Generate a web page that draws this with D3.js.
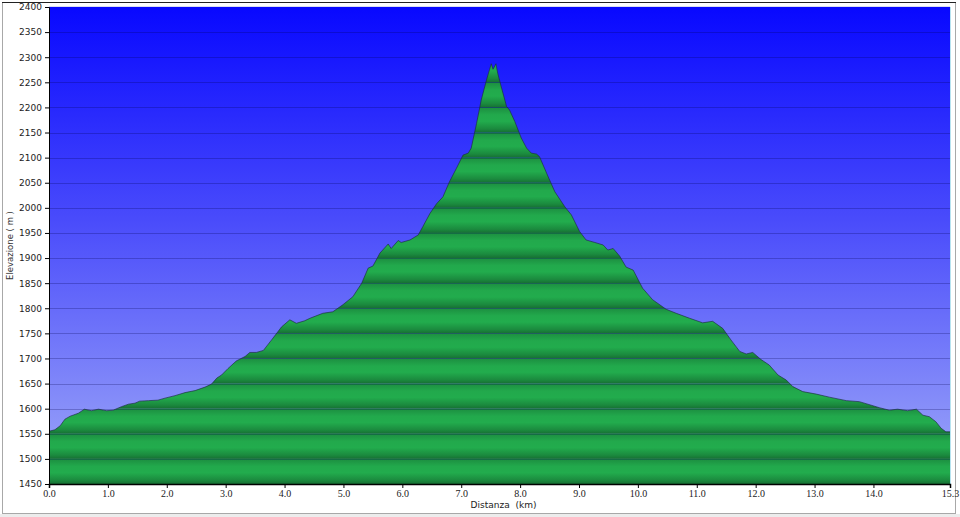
<!DOCTYPE html>
<html><head><meta charset="utf-8">
<script src="https://cdn.jsdelivr.net/npm/d3@7"></script>
<style>
html,body{margin:0;padding:0;background:#fff;}
svg{display:block;}
text{white-space:pre;}
</style></head>
<body>
<svg id="chart" width="960" height="517"></svg>
<script>
// Distance (km) and elevation (m)
const distKm = [0.00,0.10,0.19,0.27,0.36,0.50,0.60,0.72,0.84,0.98,1.09,1.23,1.35,1.46,1.54,1.69,1.85,1.97,2.14,2.31,2.48,2.65,2.76,2.85,2.93,3.04,3.18,3.33,3.41,3.52,3.64,3.78,3.95,4.09,4.20,4.34,4.43,4.65,4.82,4.99,5.16,5.31,5.42,5.50,5.62,5.76,5.81,5.93,5.98,6.13,6.27,6.35,6.47,6.58,6.69,6.80,6.92,7.03,7.12,7.17,7.26,7.34,7.43,7.48,7.51,7.54,7.59,7.62,7.68,7.77,7.82,7.91,8.02,8.11,8.19,8.28,8.33,8.45,8.59,8.76,8.87,9.01,9.12,9.27,9.41,9.49,9.58,9.69,9.80,9.92,10.08,10.25,10.48,10.65,10.88,11.10,11.27,11.44,11.58,11.73,11.84,11.95,12.09,12.23,12.38,12.52,12.63,12.80,13.03,13.25,13.54,13.76,13.96,14.10,14.27,14.41,14.58,14.73,14.84,14.95,15.06,15.15,15.23,15.30];
const elevM = [1555,1558,1566,1579,1585,1591,1599,1596,1599,1596,1597,1604,1609,1611,1615,1616,1617,1621,1626,1632,1636,1643,1649,1661,1667,1680,1695,1704,1712,1712,1716,1737,1763,1777,1770,1775,1780,1790,1793,1807,1823,1850,1880,1884,1910,1928,1919,1935,1931,1936,1946,1963,1989,2008,2022,2052,2079,2105,2109,2119,2168,2215,2255,2275,2287,2276,2287,2268,2241,2202,2195,2172,2139,2119,2109,2107,2102,2069,2032,2002,1986,1953,1936,1931,1926,1916,1919,1904,1882,1876,1840,1817,1798,1790,1780,1771,1774,1760,1737,1714,1709,1712,1698,1687,1667,1657,1644,1634,1629,1623,1616,1614,1607,1602,1597,1599,1596,1599,1587,1584,1574,1561,1554,1554];
const xTicks = [0,1,2,3,4,5,6,7,8,9,10,11,12,13,14,15.3];
const yTicks = [1450,1500,1550,1600,1650,1700,1750,1800,1850,1900,1950,2000,2050,2100,2150,2200,2250,2300,2350,2400];
const xTitle = "Distanza  (km)";
const yTitle = "Elevazione ( m )";

const data = distKm.map((d,i)=>({d, e: elevM[i]}));
const svg = d3.select("#chart");
const L=49, R=950, T=7, B=484;
const x = d3.scaleLinear().domain([0,15.3]).range([L,R]);
const y = d3.scaleLinear().domain([1450,2400]).range([B,T]);

// outer frame
svg.append("rect").attr("x",2.5).attr("y",2.5).attr("width",953).attr("height",511)
  .attr("fill","#fff").attr("stroke","#a8a8a8");
svg.append("line").attr("x1",2).attr("x2",956).attr("y1",2.5).attr("y2",2.5).attr("stroke","#222");
svg.append("rect").attr("x",0).attr("y",514).attr("width",960).attr("height",3).attr("fill","#ececec");

const defs = svg.append("defs");
const bg = defs.append("linearGradient").attr("id","bg").attr("x1",0).attr("x2",0).attr("y1",0).attr("y2",1);
bg.append("stop").attr("offset","0%").attr("stop-color","#0808ff");
bg.append("stop").attr("offset","45%").attr("stop-color","#4a4cfb");
bg.append("stop").attr("offset","100%").attr("stop-color","#a0aaf8");

const band = defs.append("linearGradient").attr("id","band").attr("x1",0).attr("x2",0).attr("y1",0).attr("y2",1);
band.append("stop").attr("offset","0%").attr("stop-color","#1c8e40");
band.append("stop").attr("offset","30%").attr("stop-color","#22a94c");
band.append("stop").attr("offset","55%").attr("stop-color","#22ac4d");
band.append("stop").attr("offset","85%").attr("stop-color","#1b8a3e");
band.append("stop").attr("offset","100%").attr("stop-color","#166f33");

defs.append("clipPath").attr("id","areaClip").append("path")
  .attr("d", d3.area().x(p=>x(p.d)).y0(B).y1(p=>y(p.e))(data));

// plot background
svg.append("rect").attr("x",L).attr("y",T).attr("width",R-L).attr("height",B-T).attr("fill","url(#bg)");

// green banded area
const g = svg.append("g").attr("clip-path","url(#areaClip)");
for (let i=0;i<yTicks.length-1;i++){
  const top = y(yTicks[i+1]), bot = y(yTicks[i]);
  g.append("rect").attr("x",L).attr("y",top).attr("width",R-L).attr("height",bot-top).attr("fill","url(#band)");
}

// gridlines
svg.append("g").selectAll("line").data(yTicks.slice(1,-1)).join("line")
  .attr("x1",L).attr("x2",R).attr("y1",d=>Math.round(y(d))+0.5).attr("y2",d=>Math.round(y(d))+0.5)
  .attr("stroke","#000050").attr("stroke-opacity",0.25).attr("stroke-width",1);

// profile outline
svg.append("path").attr("d", d3.line().x(p=>x(p.d)).y(p=>y(p.e))(data))
  .attr("fill","none").attr("stroke","#1a2a40").attr("stroke-width",0.8).attr("stroke-opacity",0.8);

// plot border highlights
svg.append("line").attr("x1",R+0.5).attr("x2",R+0.5).attr("y1",T).attr("y2",B).attr("stroke","#b8e4f0");
svg.append("line").attr("x1",L).attr("x2",R).attr("y1",T-0.5).attr("y2",T-0.5).attr("stroke","#d8dcf4");

// axes
const yAxis = d3.axisLeft(y).tickValues(yTicks).tickSize(4).tickPadding(3).tickFormat(d3.format("d"));
const ya = svg.append("g").attr("transform",`translate(${L},0)`).call(yAxis);
ya.selectAll("text").attr("font-family","Tahoma, 'DejaVu Sans', sans-serif").attr("font-size",9).attr("fill","#222");
ya.select(".domain").attr("stroke","#000");

const xAxis = d3.axisBottom(x).tickValues(xTicks).tickSize(4).tickPadding(2).tickFormat(d3.format(".1f"));
const xa = svg.append("g").attr("transform",`translate(0,${B})`).call(xAxis);
xa.selectAll("text").attr("font-family","'Liberation Serif', 'DejaVu Serif', serif").attr("font-size",10).attr("fill","#222");
xa.select(".domain").attr("stroke","#000").attr("stroke-width",1.5);

svg.append("text").attr("x",(L+R)/2+4).attr("y",508).attr("text-anchor","middle")
  .attr("font-family","Tahoma, 'DejaVu Sans', sans-serif").attr("font-size",9).attr("fill","#222").text(xTitle);
svg.append("text").attr("transform",`translate(13,${(T+B)/2}) rotate(-90)`).attr("text-anchor","middle")
  .attr("font-family","Tahoma, 'DejaVu Sans', sans-serif").attr("font-size",8.5).attr("fill","#333").text(yTitle);
</script>
</body></html>
